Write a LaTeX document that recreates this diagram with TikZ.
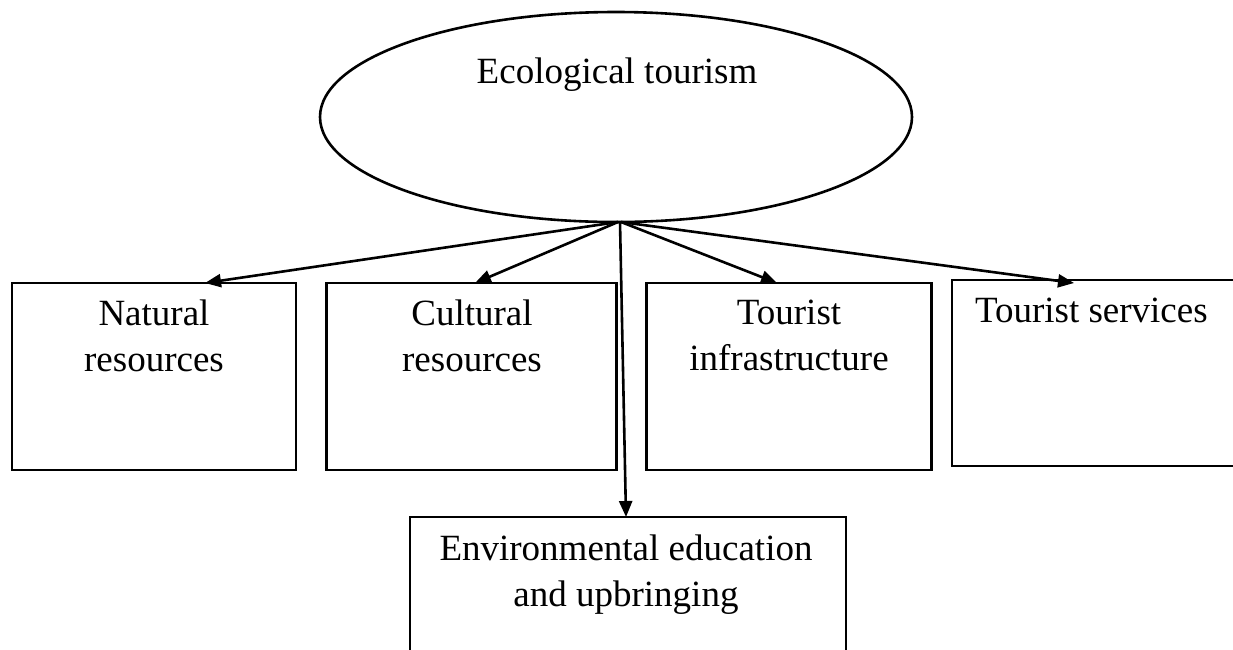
\documentclass[tikz,border=0pt]{standalone}
\usepackage{fontspec}
\setmainfont{Liberation Serif}
\usetikzlibrary{shapes.geometric,arrows.meta,calc}
\begin{document}
\begin{tikzpicture}[x=1pt,y=-1pt,
  every node/.style={inner sep=0pt,outer sep=0pt},
  boxnode/.style={draw,line width=2.6pt,rectangle},
  lbl/.style={font=\fontsize{37}{46.5}\selectfont,align=center,anchor=north},
  conn/.style={line width=2.6pt,-{Triangle[length=16pt,width=13pt]}}]
\useasboundingbox (0,0) rectangle (1233,649);
\fill[white] (0,0) rectangle (1233,649);
% ellipse
\node[draw,line width=2.6pt,ellipse,minimum width=592pt,minimum height=210pt] (eco) at (616,117) {};
\node[lbl] (ecot) at (617,57.5) {Ecological tourism};
% boxes
\node[boxnode,minimum width=284pt,minimum height=187pt] (nat) at (154,376.5) {};
\node[lbl] (natt) at (154,299.5) {Natural\\resources};
\node[boxnode,minimum width=290pt,minimum height=187pt] (cul) at (471.5,376.5) {};
\node[lbl] (cult) at (472,299.5) {Cultural\\resources};
\node[boxnode,minimum width=285pt,minimum height=187pt] (inf) at (789,376.5) {};
\node[lbl] (inft) at (789,299.5) {Tourist\\infrastructure};
\node[boxnode,minimum width=290pt,minimum height=186pt] (ser) at (1097,373) {};
\node[lbl,anchor=north west] (sert) at (975,297.5) {Tourist services};
\node[boxnode,minimum width=436pt,minimum height=170pt] (env) at (628,602) {};
\node[lbl] (envt) at (626,534.5) {Environmental education\\and upbringing};
% connectors
\coordinate (j) at (618,222);
\draw[conn] (j) -- ([xshift=51pt]nat.north);
\draw[conn] (j) -- ([xshift=3.5pt]cul.north);
\draw[conn] ([xshift=3pt]j) -- ([xshift=-12pt]inf.north);
\draw[conn] ([xshift=3pt]j) -- ([xshift=-23pt,yshift=-3pt]ser.north);
\draw[conn] ([xshift=2pt]j) -- ([xshift=-2pt]env.north);
\end{tikzpicture}
\end{document}
